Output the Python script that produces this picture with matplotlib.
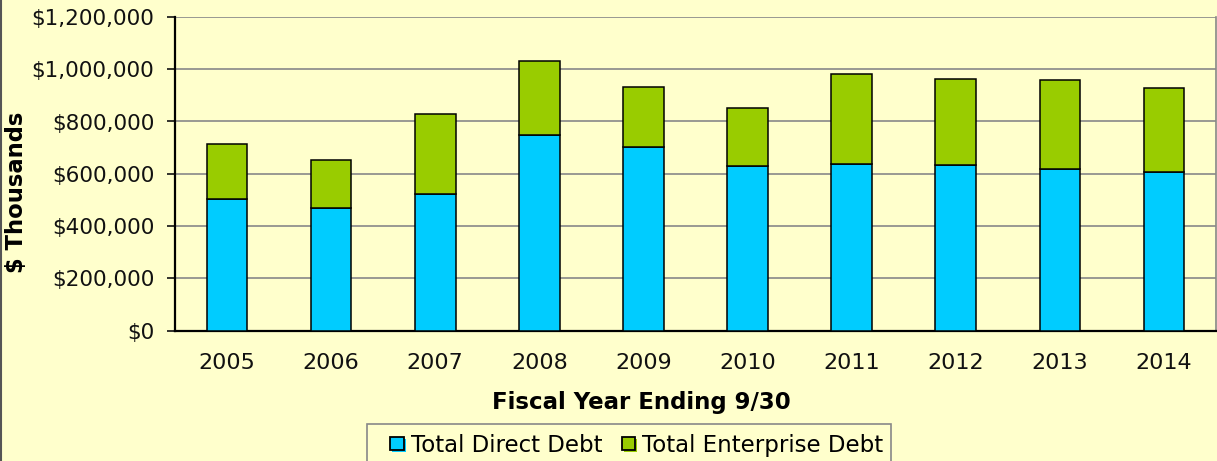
import matplotlib.pyplot as plt
import numpy as np
from matplotlib.legend_handler import HandlerPatch
from matplotlib.lines import Line2D
from matplotlib.patches import Patch, Rectangle
from matplotlib.ticker import FuncFormatter

years = ["2005", "2006", "2007", "2008", "2009", "2010", "2011", "2012", "2013", "2014"]
# $ thousands
direct_debt = [503000, 468000, 522000, 748000, 701000, 631000, 638000, 632000, 618000, 605000]
enterprise_debt = [211000, 185000, 308000, 285000, 230000, 219000, 344000, 329000, 342000, 322000]

BG = "#FFFFCC"
CYAN = "#00CCFF"
GREEN = "#99CC00"
FS = 15.5
W, H = 1217, 461


class ShadowSquare(HandlerPatch):
    """Legend key drawn as a small square with a coloured drop shadow."""

    def create_artists(self, legend, orig_handle, xdescent, ydescent,
                       width, height, fontsize, trans):
        side = min(width, height)
        x0 = -xdescent + (width - side) / 2
        y0 = -ydescent + (height - side) / 2
        shadow = Rectangle((x0 + 1.5, y0 - 1.5), side, side,
                           facecolor=orig_handle.get_facecolor(), edgecolor="none",
                           transform=trans)
        key = Rectangle((x0, y0), side, side,
                        facecolor=orig_handle.get_facecolor(), edgecolor="black",
                        linewidth=1.3, transform=trans)
        return [shadow, key]


fig = plt.figure(figsize=(W / 100, H / 100), dpi=100, facecolor=BG)
ax = fig.add_axes([175 / W, 1 - 330.5 / H, 1041 / W, 313.5 / H])
ax.set_facecolor(BG)

x = np.arange(len(years))
width = 0.39
ax.bar(x, direct_debt, width, color=CYAN, edgecolor="black", linewidth=1.1, zorder=3)
ax.bar(x, enterprise_debt, width, bottom=direct_debt, color=GREEN,
       edgecolor="black", linewidth=1.1, zorder=3)

ax.set_xlim(-0.5, len(years) - 0.5)
ax.set_ylim(0, 1200000)
ax.set_yticks(np.arange(0, 1200001, 200000))
ax.yaxis.set_major_formatter(FuncFormatter(lambda v, _: f"${v:,.0f}"))
ax.set_xticks(x)
ax.set_xticklabels(years)

ax.grid(axis="y", color="#888888", linewidth=1.2, zorder=1)
ax.tick_params(axis="y", direction="out", length=6, width=1.2, pad=9,
               labelsize=FS, colors="#111111")
ax.tick_params(axis="x", length=0, pad=16, labelsize=FS + 0.5, colors="#111111")

for side in ["left", "bottom"]:
    ax.spines[side].set_color("black")
    ax.spines[side].set_linewidth(1.6)
ax.spines["top"].set_visible(False)
ax.spines["right"].set_color("#888888")
ax.spines["right"].set_linewidth(1.2)

ax.set_xlabel("Fiscal Year Ending 9/30", fontsize=16.5, fontweight="bold")
ax.xaxis.set_label_coords((641 - 175) / 1041, (330.5 - 391) / 313.5)
ax.set_ylabel("$ Thousands", fontsize=16.3, fontweight="bold")
ax.yaxis.set_label_coords((28 - 175) / 1041, (330.5 - 192) / 313.5)

# legend box, cut off by the bottom edge of the figure
fig.add_artist(Rectangle((367 / W, -0.05), (891 - 367) / W, 0.05 + 1 - 424 / H,
                         transform=fig.transFigure, facecolor=BG,
                         edgecolor="#888888", linewidth=1.2))
handles = [
    Patch(facecolor=CYAN, edgecolor="black", label="Total Direct Debt"),
    Patch(facecolor=GREEN, edgecolor="black", label="Total Enterprise Debt"),
]
leg = fig.legend(handles=handles, loc="center left",
                 bbox_to_anchor=(390 / W, 1 - 445 / H), borderaxespad=0, borderpad=0,
                 ncol=2, fontsize=16.5, frameon=False,
                 handlelength=0.6, handleheight=0.6,
                 handletextpad=0.3, columnspacing=0.85,
                 handler_map={Patch: ShadowSquare()})

fig.add_artist(Line2D([0.0008, 0.0008], [0, 1], transform=fig.transFigure,
                      color="#555555", linewidth=1.5))

fig.savefig("out.png", dpi=100, facecolor=BG)
